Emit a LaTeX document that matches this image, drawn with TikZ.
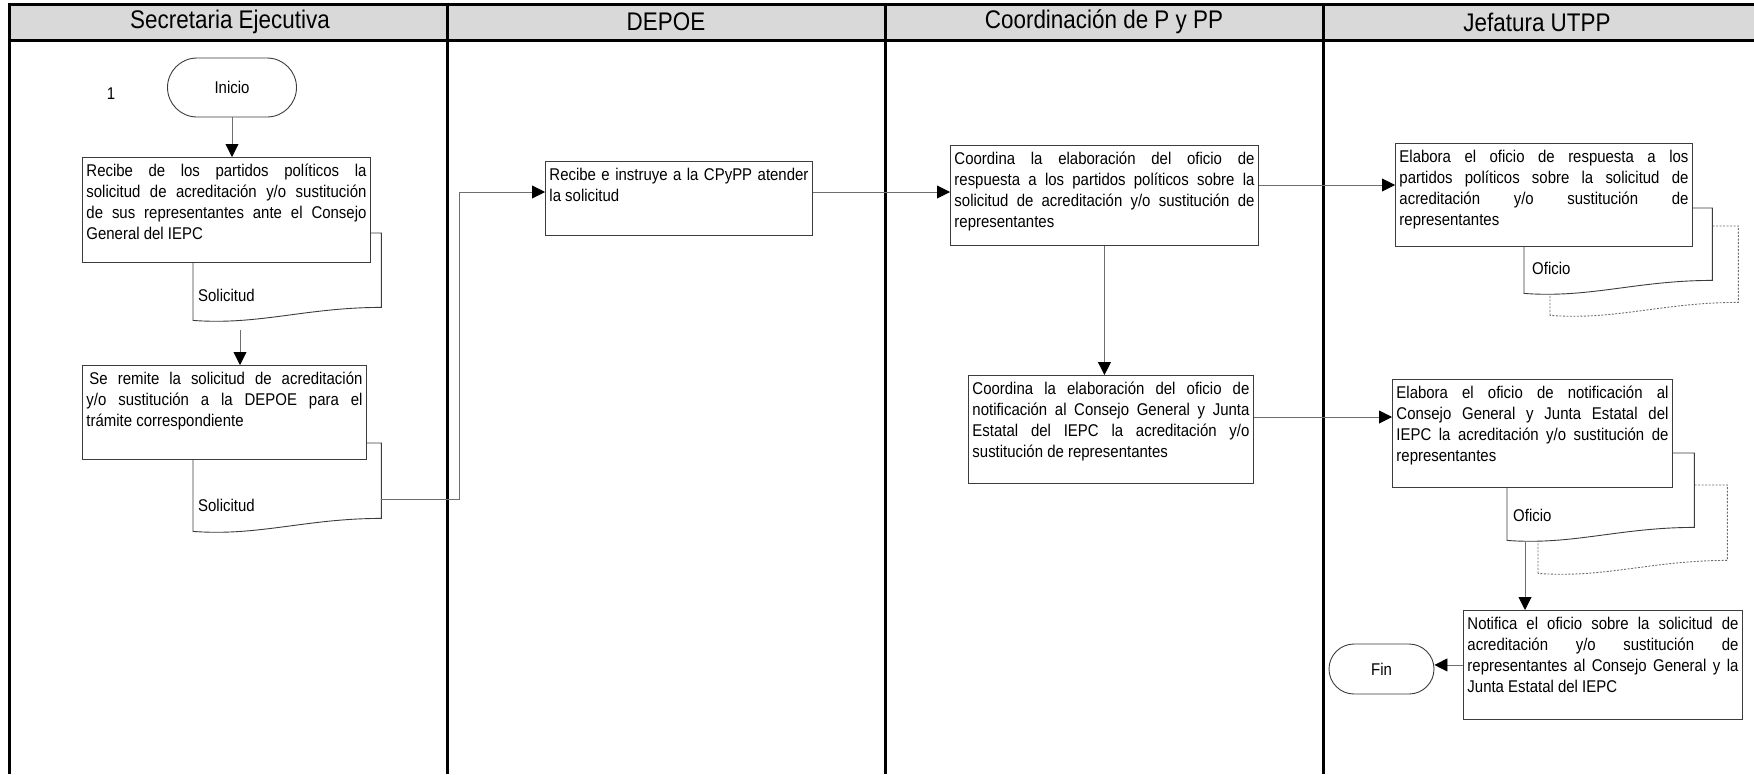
\documentclass[tikz,border=0pt]{standalone}
\usepackage{fontspec}
\setmainfont{Liberation Sans}[FakeStretch=0.88]
\usetikzlibrary{arrows.meta,calc,shapes.misc}
\definecolor{hdrgray}{HTML}{D9D9D9}
\definecolor{linegray}{HTML}{6E6E6E}
\definecolor{boxline}{HTML}{3C3C3C}
\newcommand\bxtext[3]{\parbox[c][#2pt][t]{#1pt}{\hyphenpenalty=10000\exhyphenpenalty=10000\fontsize{17}{21}\selectfont #3}}
\newcommand\docline[2]{%
  \draw[#2] ($(#1.south west)+(0,13)$) -- (#1.north west) -- (#1.north east) -- (#1.south east)
    .. controls ($(#1.south west)!0.6!(#1.south east)$) and ($(#1.south west)!0.35!(#1.south east)+(0,18)$)
    .. ($(#1.south west)+(0,13)$) -- cycle;}
\tikzset{
  procbox/.style={draw=boxline, line width=0.9pt, fill=white, rectangle, inner xsep=4pt, inner ysep=7pt, anchor=north west},
  docnode/.style={rectangle, draw=none, inner sep=0pt, anchor=north west},
  doctext/.style={anchor=west, inner sep=0pt, font=\fontsize{17}{18}\selectfont},
  hdr/.style={font=\fontsize{25.5}{28}\selectfont, inner sep=0pt},
  term/.style={rounded rectangle, draw=boxline, line width=0.9pt, fill=white, inner sep=0pt, font=\fontsize{17}{18}\selectfont},
  arr/.style={draw=linegray, line width=0.9pt, -{Triangle[length=13pt,width=13pt,black]}},
  lane/.style={line width=3pt, black},
}
\begin{document}
\begin{tikzpicture}[x=1pt,y=-1pt]
\useasboundingbox (0,0) rectangle (1754,774);
% pool and lanes
\fill[hdrgray] (9,4) rectangle (1754,40);
\draw[lane] (9,4) -- (1754,4);
\draw[lane] (9,40) -- (1754,40);
\foreach \xx in {9,447,885,1323} { \draw[lane] (\xx,2.5) -- (\xx,774); }
\node[hdr] (h1) at (230,22) {Secretaria Ejecutiva};
\node[hdr] (h2) at (666,22) {DEPOE};
\node[hdr] (h3) at (1104,22) {Coordinación de P y PP};
\node[hdr] (h4) at (1537,22) {Jefatura UTPP};

% Secretaria Ejecutiva
\node[font=\fontsize{17}{18}\selectfont, inner sep=0pt] (n1) at (111,94) {1};
\node[term, minimum width=129pt, minimum height=59pt] (ini) at (232,87.5) {Inicio};

\node[docnode, minimum width=188pt, minimum height=74pt] (d1) at (193,233) {};
\docline{d1}{draw=boxline, line width=0.9pt, fill=white}
\node[doctext] (d1t) at (198,295) {Solicitud};
\node[procbox] (b1) at (82,157) {\bxtext{280}{91}{Recibe de los partidos políticos la\linebreak solicitud de acreditación y/o sustitución\linebreak de sus representantes ante el Consejo\linebreak General del IEPC}};

\node[docnode, minimum width=188pt, minimum height=75pt] (d2) at (193,443) {};
\docline{d2}{draw=boxline, line width=0.9pt, fill=white}
\node[doctext] (d2t) at (198,505) {Solicitud};
\node[procbox] (b2) at (82,365) {\bxtext{276}{80}{\hspace{3pt}Se remite la solicitud de acreditación\linebreak y/o sustitución a la DEPOE para el\linebreak trámite correspondiente}};

% DEPOE
\node[procbox] (b3) at (545,161) {\bxtext{259}{60}{Recibe e instruye a la CPyPP atender\linebreak la solicitud}};

% Coordinacion
\node[procbox] (b4) at (950,145) {\bxtext{300}{86}{Coordina la elaboración del oficio de\linebreak respuesta a los partidos políticos sobre la\linebreak solicitud de acreditación y/o sustitución de\linebreak representantes}};
\node[procbox] (b6) at (968,375) {\bxtext{277}{94}{Coordina la elaboración del oficio de\linebreak notificación al Consejo General y Junta\linebreak Estatal del IEPC la acreditación y/o\linebreak sustitución de representantes}};

% Jefatura
\node[docnode, minimum width=188pt, minimum height=76pt] (d4s) at (1550,226) {};
\docline{d4s}{draw=linegray, line width=0.9pt, dash pattern=on 2pt off 1.5pt, fill=white}
\node[docnode, minimum width=188pt, minimum height=72pt] (d4) at (1524,208) {};
\docline{d4}{draw=boxline, line width=0.9pt, fill=white}
\node[doctext] (d4t) at (1532,268) {Oficio};
\node[procbox] (b5) at (1395,143) {\bxtext{289}{89}{Elabora el oficio de respuesta a los\linebreak partidos políticos sobre la solicitud de\linebreak acreditación y/o sustitución de\linebreak representantes}};

\node[docnode, minimum width=189pt, minimum height=75pt] (d7s) at (1538,485) {};
\docline{d7s}{draw=linegray, line width=0.9pt, dash pattern=on 2pt off 1.5pt, fill=white}
\node[docnode, minimum width=187pt, minimum height=74pt] (d7) at (1507,453) {};
\docline{d7}{draw=boxline, line width=0.9pt, fill=white}
\node[doctext] (d7t) at (1513,515) {Oficio};
\node[procbox] (b7) at (1392,379) {\bxtext{272}{94}{Elabora el oficio de notificación al\linebreak Consejo General y Junta Estatal del\linebreak IEPC la acreditación y/o sustitución de\linebreak representantes}};

\node[procbox] (b8) at (1463,610) {\bxtext{271}{95}{Notifica el oficio sobre la solicitud de\linebreak acreditación y/o sustitución de\linebreak representantes al Consejo General y la\linebreak Junta Estatal del IEPC}};
\node[term, minimum width=105pt, minimum height=50pt] (fin) at (1381.5,669) {Fin};

% connectors
\draw[arr] (ini.south) -- (ini.south |- b1.north);
\coordinate (c12) at ($(d1.south west)+(47,23)$);
\draw[arr] (c12) -- (c12 |- b2.north);
\coordinate (c23) at ($(d2.north east)+(0,56)$);
\coordinate (j23) at (459,300);
\coordinate (e3) at ($(b3.north west)+(0,31)$);
\draw[arr] (c23) -- (c23 -| j23) -- (j23 |- e3) -- (e3);
\coordinate (c34) at ($(b3.north east)+(0,31)$);
\draw[arr] (c34) -- (c34 -| b4.west);
\coordinate (c45) at ($(b4.north east)+(0,40)$);
\draw[arr] (c45) -- (c45 -| b5.west);
\draw[arr] (b4.south) -- (b4.south |- b6.north);
\coordinate (c67) at ($(b6.north east)+(0,42)$);
\draw[arr] (c67) -- (c67 -| b7.west);
\coordinate (c78) at ($(d7.south west)+(18,15)$);
\draw[arr] (c78) -- (c78 |- b8.north);
\draw[arr] (b8.west) -- (b8.west -| fin.east);
\end{tikzpicture}
\end{document}
